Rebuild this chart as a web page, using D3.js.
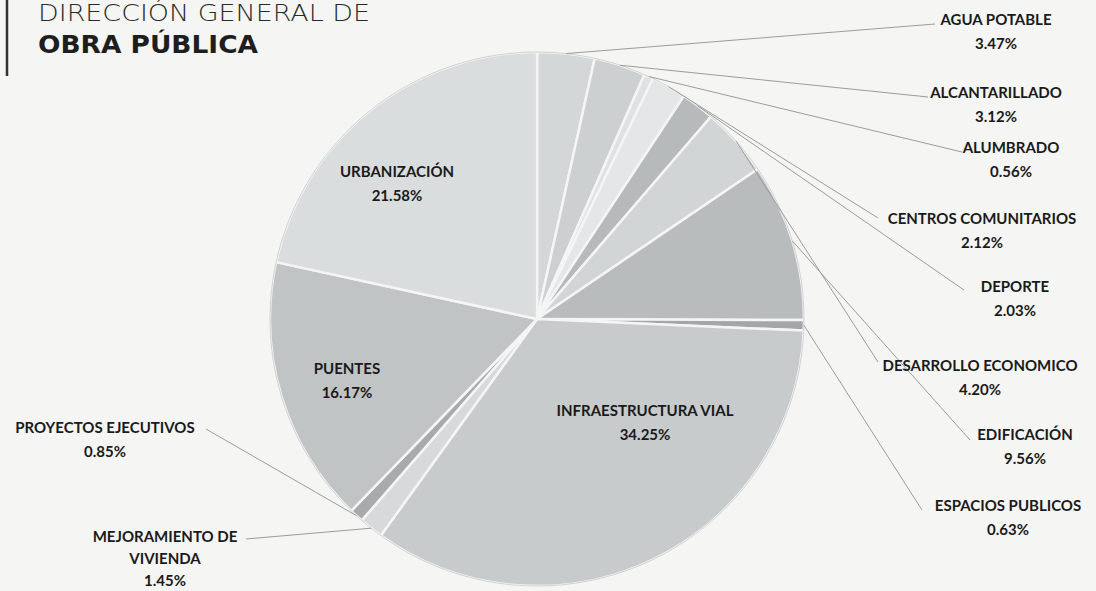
<!DOCTYPE html>
<html>
<head>
<meta charset="utf-8">
<script src="https://cdn.jsdelivr.net/npm/d3@7/dist/d3.min.js"></script>
<style>
  html, body { margin: 0; padding: 0; background: #f5f5f3; }
  svg { display: block; }
</style>
</head>
<body>
<svg id="chart" width="1096" height="591"></svg>
<script>
// ---- data ----
const categories = [
  "AGUA POTABLE", "ALCANTARILLADO", "ALUMBRADO", "CENTROS COMUNITARIOS",
  "DEPORTE", "DESARROLLO ECONOMICO", "EDIFICACIÓN", "ESPACIOS PUBLICOS",
  "INFRAESTRUCTURA VIAL", "MEJORAMIENTO DE VIVIENDA", "PROYECTOS EJECUTIVOS",
  "PUENTES", "URBANIZACIÓN"
];
const values = [3.47, 3.12, 0.56, 2.12, 2.03, 4.20, 9.56, 0.63, 34.25, 1.45, 0.85, 16.17, 21.58];
const labelLines = [
  ["AGUA POTABLE"], ["ALCANTARILLADO"], ["ALUMBRADO"], ["CENTROS COMUNITARIOS"],
  ["DEPORTE"], ["DESARROLLO ECONOMICO"], ["EDIFICACIÓN"], ["ESPACIOS PUBLICOS"],
  ["INFRAESTRUCTURA VIAL"], ["MEJORAMIENTO DE", "VIVIENDA"], ["PROYECTOS EJECUTIVOS"],
  ["PUENTES"], ["URBANIZACIÓN"]
];
const sliceColors = [
  "#d4d7d8", "#cdd0d1", "#dfe1e2", "#e4e6e7", "#b7babb", "#d2d5d6", "#b9bcbd",
  "#a4a7a8", "#c8cbcc", "#d7dadb", "#a8abac", "#c1c4c5", "#dadddd"
];

// ---- layout (label placement, not data) ----
const labelLayout = [
  {x: 996, y: 19, lx: 935, ly: 24},
  {x: 996, y: 92, lx: 928, ly: 97},
  {x: 1011, y: 147, lx: 962, ly: 152},
  {x: 982, y: 218, lx: 878, ly: 218},
  {x: 1015, y: 286, lx: 964, ly: 290},
  {x: 980, y: 365, lx: 878, ly: 362},
  {x: 1025, y: 434, lx: 970, ly: 440},
  {x: 1008, y: 505, lx: 922, ly: 510},
  {x: 645, y: 410, inside: true},
  {x: 165, y: 536, lx: 246, ly: 539, gap: 22},
  {x: 105, y: 427, lx: 206, ly: 429},
  {x: 347, y: 368, inside: true},
  {x: 397, y: 171, inside: true}
];

const svg = d3.select("#chart");
const cx = 537, cy = 319, R = 267;

// title
svg.append("line").attr("x1", 7).attr("x2", 7).attr("y1", 0).attr("y2", 76)
  .attr("stroke", "#333").attr("stroke-width", 2.5);
svg.append("text").attr("x", 38).attr("y", 21)
  .attr("font-family", "DejaVu Sans, sans-serif").attr("font-size", 23)
  .attr("font-weight", 300).attr("fill", "#2a2a2a")
  .attr("textLength", 332).attr("lengthAdjust", "spacingAndGlyphs")
  .text("DIRECCIÓN GENERAL DE");
svg.append("text").attr("x", 38).attr("y", 53)
  .attr("font-family", "DejaVu Sans, sans-serif").attr("font-size", 24)
  .attr("font-weight", 700).attr("fill", "#1e1e1e")
  .attr("textLength", 220).attr("lengthAdjust", "spacingAndGlyphs")
  .text("OBRA PÚBLICA");

// pie
const data = categories.map((c, i) => ({name: c, value: values[i], i}));
const pie = d3.pie().sort(null).value(d => d.value).startAngle(0).endAngle(2 * Math.PI);
const arcs = pie(data);
const arc = d3.arc().innerRadius(0).outerRadius(R);
const edgeArc = d3.arc().innerRadius(R).outerRadius(R);

const g = svg.append("g").attr("transform", `translate(${cx},${cy})`);
g.selectAll("path.slice").data(arcs).join("path")
  .attr("class", "slice")
  .attr("d", arc)
  .attr("fill", d => sliceColors[d.data.i])
  .attr("stroke", "#f4f6f6")
  .attr("stroke-width", 2.5)
  .attr("stroke-linejoin", "round");

g.append("circle").attr("r", R).attr("fill", "none")
  .attr("stroke", "#9a9d9e").attr("stroke-width", 0.8).attr("opacity", 0.5);

// leader lines
const lines = svg.append("g");
arcs.forEach(a => {
  const L = labelLayout[a.data.i];
  if (L.inside) return;
  const [px, py] = edgeArc.centroid(a);
  lines.append("line")
    .attr("x1", cx + px).attr("y1", cy + py)
    .attr("x2", L.lx).attr("y2", L.ly)
    .attr("stroke", "#9c9c9c").attr("stroke-width", 1);
});

// labels
const fmt = d3.format(".2f");
const labels = svg.append("g")
  .attr("font-family", "Lato, 'Open Sans', sans-serif")
  .attr("font-weight", 700).attr("font-size", 15)
  .attr("fill", "#1a1a1a").attr("text-anchor", "middle");
arcs.forEach(a => {
  const i = a.data.i;
  const L = labelLayout[i];
  const ls = labelLines[i].concat([fmt(values[i]) + "%"]);
  const t = labels.append("text").attr("x", L.x).attr("y", L.y)
    .attr("dominant-baseline", "central");
  ls.forEach((s, k) => {
    t.append("tspan").attr("x", L.x).attr("dy", k === 0 ? 0 : (L.gap || 23.5)).text(s);
  });
});
</script>
</body>
</html>
